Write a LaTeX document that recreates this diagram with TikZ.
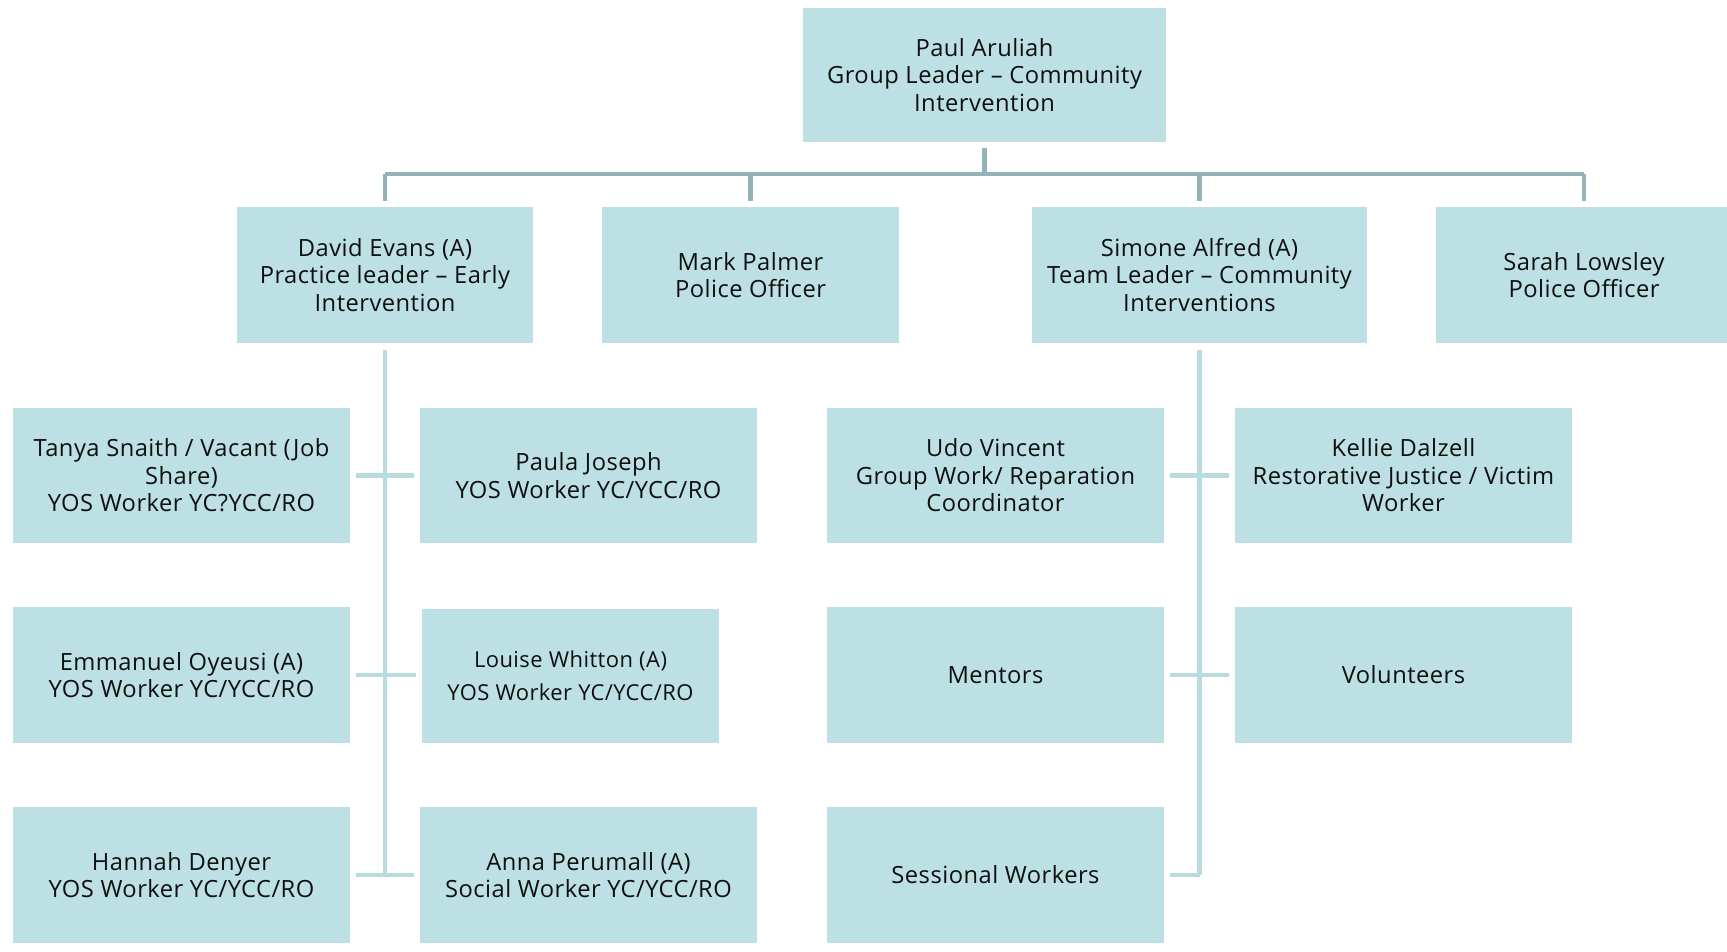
\documentclass[tikz,border=0pt]{standalone}
\usepackage{fontspec}
\setmainfont[LetterSpace=2]{Open Sans}
\definecolor{boxfill}{RGB}{188,224,228}
\definecolor{barline}{RGB}{148,179,182}
\definecolor{trunkline}{RGB}{184,219,223}
\definecolor{posttext}{RGB}{15,15,15}
\tikzset{
  post/.style={rectangle, fill=boxfill, inner sep=0pt,
               minimum width=6.74cm, minimum height=2.72cm,
               align=center, text=posttext,
               font=\fontsize{13.5}{15.6}\selectfont},
  headpost/.style={post, minimum width=#1},
  topline/.style={draw=barline, line width=2.3pt},
  subline/.style={draw=trunkline, line width=2.3pt},
}

\begin{document}
\begin{tikzpicture}[x=0.02cm, y=-0.02cm]
  \clip (0,0) rectangle (1727,951);

  % group leader
  \node[headpost=7.26cm, minimum height=2.68cm] (paul) at (984.5,75)
    {Paul Aruliah\\Group Leader -- Community\\Intervention};

  % second level
  \node[headpost=5.92cm] (david) at (385,275)
    {David Evans (A)\\Practice leader -- Early\\Intervention};
  \node[headpost=5.94cm] (mark) at (750.5,275)
    {Mark Palmer\\Police Officer};
  \node[headpost=6.7cm] (simone) at (1199.5,275)
    {Simone Alfred (A)\\Team Leader -- Community\\Interventions};
  \node[headpost=5.92cm] (sarah) at (1584,275)
    {Sarah Lowsley\\Police Officer};

  % early intervention team
  \node[post] (tanya) at (181.5,475.5)
    {Tanya Snaith / Vacant (Job\\Share)\\YOS Worker YC?YCC/RO};
  \node[post] (paula) at (588.5,475.5)
    {Paula Joseph\\YOS Worker YC/YCC/RO};
  \node[post] (emmanuel) at (181.5,675)
    {Emmanuel Oyeusi (A)\\YOS Worker YC/YCC/RO};
  \node[post, minimum width=5.94cm, minimum height=2.68cm,
        font=\fontsize{12.5}{15.6}\selectfont] (louise) at (570.5,676)
    {Louise Whitton (A)\\[3pt]YOS Worker YC/YCC/RO};
  \node[post] (hannah) at (181.5,875)
    {Hannah Denyer\\YOS Worker YC/YCC/RO};
  \node[post] (anna) at (588.5,875)
    {Anna Perumall (A)\\Social Worker YC/YCC/RO};

  % community interventions team
  \node[post] (udo) at (995.5,475.5)
    {Udo Vincent\\Group Work/ Reparation\\Coordinator};
  \node[post] (kellie) at (1403.5,475.5)
    {Kellie Dalzell\\Restorative Justice / Victim\\Worker};
  \node[post] (mentors) at (995.5,675) {Mentors};
  \node[post] (volunteers) at (1403.5,675) {Volunteers};
  \node[post] (sessional) at (995.5,875) {Sessional Workers};

  % top bar
  \coordinate (bar) at (984.5,174);
  \draw[topline] ([yshift=-3pt]paul.south) -- (bar);
  \draw[topline] (david.north |- bar) -- (sarah.north |- bar);
  \foreach \n in {david,mark,simone,sarah}
    \draw[topline] (\n.north |- bar) -- ([yshift=3.5pt]\n.north);

  % left trunk
  \draw[subline] ([yshift=-4pt]david.south) -- (david.south |- hannah.east);
  \draw[subline] ([xshift=3.4pt]tanya.east) -- ([xshift=-3.4pt]paula.west);
  \draw[subline] ([xshift=3.4pt]emmanuel.east) -- ([xshift=-3.4pt]emmanuel.east -| louise.west);
  \draw[subline] ([xshift=3.4pt]hannah.east) -- ([xshift=-3.4pt]anna.west);

  % right trunk
  \draw[subline] ([yshift=-4pt]simone.south) -- (simone.south |- sessional.east);
  \draw[subline] ([xshift=3.4pt]udo.east) -- ([xshift=-3.4pt]kellie.west);
  \draw[subline] ([xshift=3.4pt]mentors.east) -- ([xshift=-3.4pt]volunteers.west);
  \draw[subline] ([xshift=3.4pt]sessional.east) -- (sessional.east -| simone.south);
\end{tikzpicture}
\end{document}
